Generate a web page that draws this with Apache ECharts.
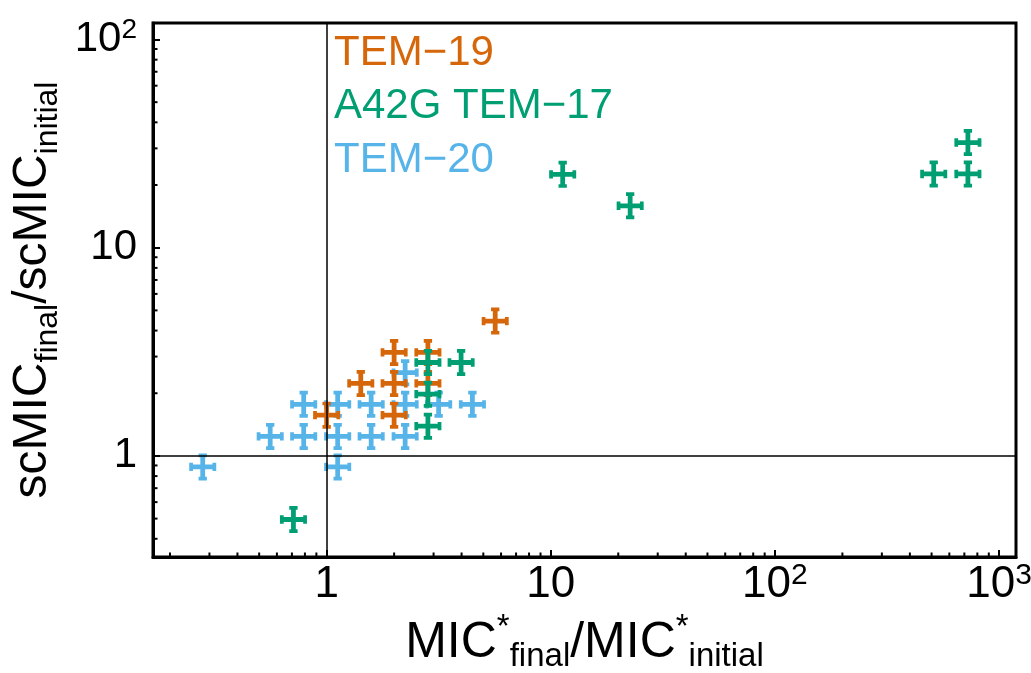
<!DOCTYPE html>
<html>
<head>
<meta charset="utf-8">
<script src="https://cdn.jsdelivr.net/npm/echarts@6/dist/echarts.min.js"></script>
<style>
html, body { margin: 0; padding: 0; background: #fff; }
#main { width: 1031px; height: 673px; }
</style>
</head>
<body>
<div id="main"></div>
<script>
// 数据: MIC*final/MIC*initial (x) , scMICfinal/scMICinitial (y)
var tem19X = [5.65, 2.0, 2.83, 1.42, 2.0, 2.83, 1.0, 2.0];
var tem19Y = [4.44, 3.14, 3.14, 2.23, 2.23, 2.23, 1.57, 1.57];

var a42gX = [2.83, 3.98, 2.83, 2.83, 0.711, 11.3, 22.6, 726, 511, 726];
var a42gY = [2.81, 2.81, 1.98, 1.39, 0.495, 22.5, 15.9, 32, 22.6, 22.6];

var tem20X = [0.28, 0.56, 0.79, 1.12, 1.58, 2.24, 0.79, 1.12, 1.58, 2.24, 3.16, 4.47, 2.24, 1.12];
var tem20Y = [0.885, 1.24, 1.24, 1.24, 1.24, 1.24, 1.77, 1.77, 1.77, 1.77, 1.77, 1.77, 2.51, 0.885];

var seriesNames = ['TEM\u221219', 'A42G TEM\u221217', 'TEM\u221220'];

// 坐标轴
var xMin = 0.168, xMax = 1190;
var yMin = 0.327, yMax = 120;
var xTickVals = [1, 10, 100, 1000];
var xTickBase = ['1', '10', '10', '10'];
var xTickExp = ['', '', '2', '3'];
var yTickVals = [1, 10, 100];
var yTickBase = ['1', '10', '10'];
var yTickExp = ['', '', '2'];
var xMinor = [0.2, 0.3, 0.4, 0.5, 0.6, 0.7, 0.8, 0.9, 2, 3, 4, 5, 6, 7, 8, 9,
    20, 30, 40, 50, 60, 70, 80, 90, 200, 300, 400, 500, 600, 700, 800, 900];
var yMinor = [0.4, 0.5, 0.6, 0.7, 0.8, 0.9, 2, 3, 4, 5, 6, 7, 8, 9,
    20, 30, 40, 50, 60, 70, 80, 90];
var refX = [1];
var refY = [1];

var FONT = "'Liberation Sans', Arial, sans-serif";
var c19 = '#D5670A', c17 = '#009E73', c20 = '#56B4E9';
// 带端帽的十字
var plusPath = 'path://M0,10.7H26V15.3H0Z M10.7,0H15.3V26H10.7Z M0,9H3.6V17H0Z M22.4,9H26V17H22.4Z M9,0H17V3.6H9Z M9,22.4H17V26H9Z';

function zip(xs, ys) {
    var out = [];
    for (var i = 0; i < xs.length; i++) {
        out.push([xs[i], ys[i]]);
    }
    return out;
}

function tickFormatter(vals, base, exp) {
    return function (v) {
        for (var i = 0; i < vals.length; i++) {
            if (Math.abs(Math.log10(v) - Math.log10(vals[i])) < 1e-6) {
                if (exp[i]) return '{b|' + base[i] + '}{s|' + exp[i] + '}';
                return '{b|' + base[i] + '}';
            }
        }
        return '';
    };
}

function scatterSeries(name, xs, ys, color) {
    return {
        name: name,
        type: 'scatter',
        symbol: plusPath,
        symbolSize: 27,
        itemStyle: { color: color, opacity: 1 },
        z: 3,
        data: zip(xs, ys)
    };
}

function minorTickSeries(isX) {
    var data = isX ? xMinor.map(function (v) { return [v, yMin]; })
                   : yMinor.map(function (v) { return [xMin, v]; });
    return {
        type: 'custom',
        silent: true,
        clip: false,
        z: 6,
        data: data,
        renderItem: function (params, api) {
            var p = api.coord([api.value(0), api.value(1)]);
            var shape = isX ? { x1: p[0], y1: p[1], x2: p[0], y2: p[1] - 4.5 }
                            : { x1: p[0], y1: p[1], x2: p[0] + 4.5, y2: p[1] };
            return { type: 'line', shape: shape, style: { stroke: '#000', lineWidth: 2 } };
        }
    };
}

var refLines = [];
refX.forEach(function (v) { refLines.push({ xAxis: v }); });
refY.forEach(function (v) { refLines.push({ yAxis: v }); });

var option = {
    backgroundColor: '#fff',
    animation: false,
    grid: {
        left: 153, top: 23, right: 15, bottom: 116,
        outerBoundsMode: 'none', containLabel: false,
        show: true, borderColor: '#000', borderWidth: 3, backgroundColor: 'transparent'
    },
    legend: {
        data: [
            { name: seriesNames[0], textStyle: { color: c19 } },
            { name: seriesNames[1], textStyle: { color: c17 } },
            { name: seriesNames[2], textStyle: { color: c20 } }
        ],
        orient: 'vertical',
        left: 324, top: 27,
        icon: 'none', itemWidth: 0, itemHeight: 42, itemGap: 11.5,
        selectedMode: false,
        textStyle: { fontSize: 42, fontFamily: FONT, lineHeight: 42 }
    },
    xAxis: {
        type: 'log', logBase: 10, min: xMin, max: xMax,
        splitLine: { show: false },
        axisLine: { onZero: false, lineStyle: { color: '#000', width: 3 } },
        axisTick: { inside: true, length: 7, lineStyle: { color: '#000', width: 2 } },
        axisLabel: {
            showMinLabel: false, showMaxLabel: false, margin: 4,
            formatter: tickFormatter(xTickVals, xTickBase, xTickExp),
            rich: {
                b: { fontSize: 44, fontFamily: FONT, color: '#000', lineHeight: 48 },
                s: { fontSize: 30, fontFamily: FONT, color: '#000', lineHeight: 30, verticalAlign: 'top' }
            }
        },
        name: '{m|MIC}{p|*}{s|final}{m|/MIC}{p|*}{s|initial}',
        nameLocation: 'middle', nameGap: 45,
        nameTextStyle: {
            rich: {
                m: { fontSize: 50, fontFamily: FONT, color: '#000', lineHeight: 62 },
                p: { fontSize: 33, fontFamily: FONT, color: '#000', lineHeight: 36, verticalAlign: 'top' },
                s: { fontSize: 33, fontFamily: FONT, color: '#000', lineHeight: 33, verticalAlign: 'bottom' }
            }
        }
    },
    yAxis: {
        type: 'log', logBase: 10, min: yMin, max: yMax,
        splitLine: { show: false },
        axisLine: { onZero: false, lineStyle: { color: '#000', width: 3 } },
        axisTick: { inside: true, length: 7, lineStyle: { color: '#000', width: 2 } },
        axisLabel: {
            showMinLabel: false, showMaxLabel: false, margin: 16,
            formatter: tickFormatter(yTickVals, yTickBase, yTickExp),
            rich: {
                b: { fontSize: 42, fontFamily: FONT, color: '#000', lineHeight: 46 },
                s: { fontSize: 28, fontFamily: FONT, color: '#000', lineHeight: 28, verticalAlign: 'top' }
            }
        },
        name: '{m|scMIC}{s|final}{m|/scMIC}{s|initial}',
        nameLocation: 'middle', nameRotate: 90, nameGap: 82,
        nameTextStyle: {
            rich: {
                m: { fontSize: 48, fontFamily: FONT, color: '#000', lineHeight: 62 },
                s: { fontSize: 32, fontFamily: FONT, color: '#000', lineHeight: 32, verticalAlign: 'bottom' }
            }
        }
    },
    series: [
        {
            type: 'scatter', data: [], silent: true, z: 1,
            markLine: {
                silent: true, symbol: 'none', animation: false,
                label: { show: false },
                lineStyle: { color: '#000', width: 1.5, type: 'solid' },
                data: refLines
            }
        },
        scatterSeries(seriesNames[2], tem20X, tem20Y, c20),
        scatterSeries(seriesNames[0], tem19X, tem19Y, c19),
        scatterSeries(seriesNames[1], a42gX, a42gY, c17),
        minorTickSeries(true),
        minorTickSeries(false)
    ]
};

var chart = echarts.init(document.getElementById('main'));
chart.setOption(option);
</script>
</body>
</html>
